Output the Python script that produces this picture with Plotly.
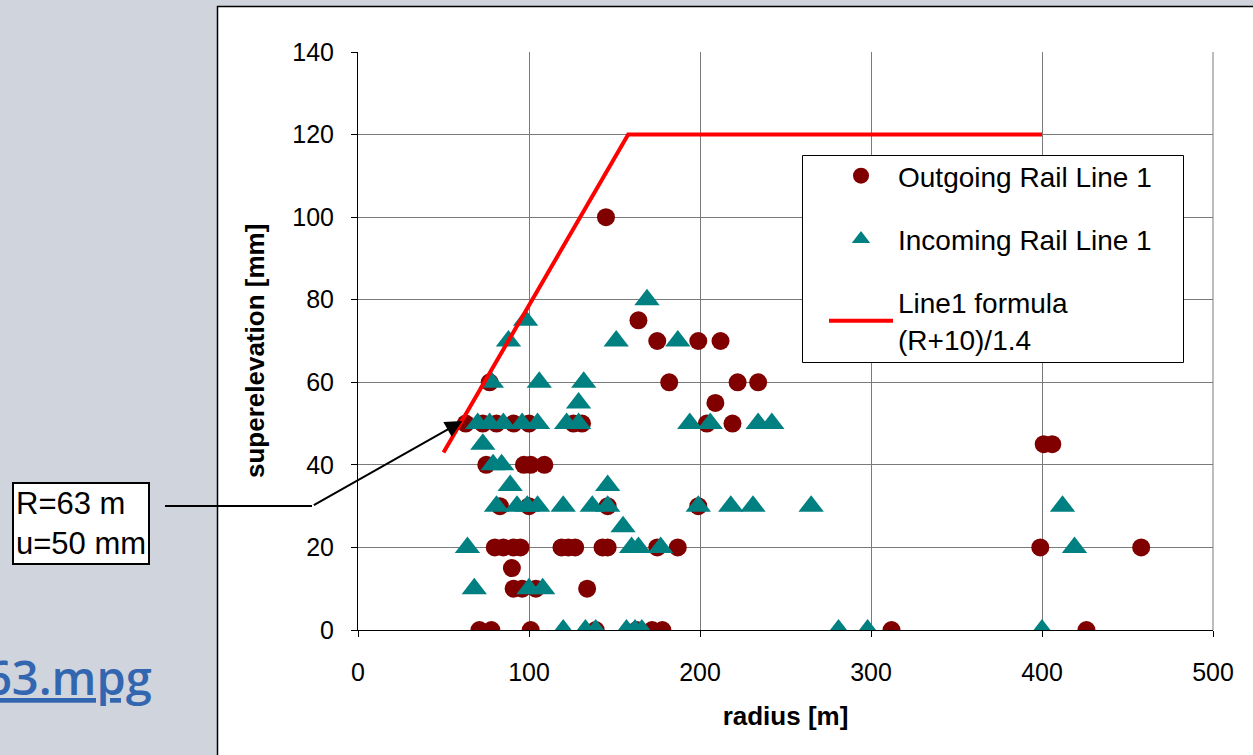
import plotly.graph_objects as go

# ---------------- data ----------------
out_x = [145, 164, 175, 199, 212, 182, 222, 234, 77, 209,
         63, 73, 81, 91, 100, 126, 131, 204, 219, 401, 406,
         75, 97, 101, 109, 83, 100, 146, 199,
         80, 85, 91, 95, 119, 123, 127, 143, 146, 175, 187, 399, 458,
         90, 91, 96, 104, 134,
         71, 78, 101, 139, 163, 172, 178, 312, 426]
out_y = [100, 75, 70, 70, 70, 60, 60, 60, 60, 55,
         50, 50, 50, 50, 50, 50, 50, 50, 50, 45, 45,
         40, 40, 40, 40, 30, 30, 30, 30,
         20, 20, 20, 20, 20, 20, 20, 20, 20, 20, 20, 20, 20,
         15, 10, 10, 10, 10,
         0, 0, 0, 0, 0, 0, 0, 0, 0]

in_x = [169, 98, 88, 151, 187, 78, 106, 132, 129,
        70, 77, 85, 96, 105, 122, 129, 194, 206, 234, 242,
        73, 79, 84, 89, 146,
        81, 93, 99, 105, 120, 137, 146, 199, 218, 231, 265, 412,
        155, 64, 160, 164, 177, 419,
        68, 100, 108,
        120, 133, 139, 157, 162, 166, 281, 298, 400]
in_y = [80, 75, 70, 70, 70, 60, 60, 60, 55,
        50, 50, 50, 50, 50, 50, 50, 50, 50, 50, 50,
        45, 40, 40, 35, 35,
        30, 30, 30, 30, 30, 30, 30, 30, 30, 30, 30, 30,
        25, 20, 20, 20, 20, 20,
        10, 10, 10,
        0, 0, 0, 0, 0, 0, 0, 0, 0]

line_x = [50, 158, 400]
line_y = [43, 120, 120]

x_ticks = [0, 100, 200, 300, 400, 500]
y_ticks = [0, 20, 40, 60, 80, 100, 120, 140]

# ---------------- layout geometry ----------------
W, H = 1253, 755
L, R, T, B = 358, 1213, 52, 630   # plot area in pixels


def px(xp):
    return (xp - L) / (R - L)


def py(yp):
    return (B - yp) / (B - T)


FONT = "Liberation Sans, Arial, sans-serif"

fig = go.Figure()
fig.add_trace(go.Scatter(
    x=out_x, y=out_y, mode="markers", name="Outgoing Rail Line 1",
    legendgroup="a",
    marker=dict(symbol="circle", size=18, color="#800000")))
fig.add_trace(go.Scatter(
    x=in_x, y=in_y, mode="markers", name="Incoming Rail Line 1",
    legendgroup="b",
    marker=dict(symbol="triangle-up", size=22, color="#008080")))
fig.add_trace(go.Scatter(
    x=line_x, y=line_y, mode="lines", name="Line1 formula<br>(R+10)/1.4",
    legendgroup="c",
    line=dict(color="#FF0000", width=4)))

axis_common = dict(
    showline=True, linecolor="black", linewidth=1,
    showgrid=True, gridcolor="#7a7a7a", gridwidth=1,
    ticks="outside", ticklen=6, tickcolor="black",
    tickfont=dict(family=FONT, size=25, color="black"),
    zeroline=False, fixedrange=True,
)

fig.update_xaxes(range=[0, 500], tickvals=x_ticks, ticktext=[str(v) for v in x_ticks],
                 title=dict(text="<b>radius [m]</b>", font=dict(family=FONT, size=26, color="black"),
                            standoff=21),
                 ticklabelstandoff=14, **axis_common)
fig.update_yaxes(range=[0, 140], tickvals=y_ticks, ticktext=[str(v) for v in y_ticks],
                 ticklabelstandoff=12, **axis_common)

shapes = [
    # slide background left and top
    dict(type="rect", xref="paper", yref="paper", x0=px(-5), x1=px(217), y0=py(-5), y1=py(760),
         fillcolor="#D0D4DC", line=dict(width=0), layer="below"),
    dict(type="rect", xref="paper", yref="paper", x0=px(-5), x1=px(1260), y0=py(6), y1=py(-5),
         fillcolor="#D0D4DC", line=dict(width=0), layer="below"),
    # chart border
    dict(type="line", xref="paper", yref="paper", x0=px(217.5), x1=px(217.5), y0=py(6), y1=py(760),
         line=dict(color="black", width=1.5)),
    dict(type="line", xref="paper", yref="paper", x0=px(217), x1=px(1260), y0=py(6.5), y1=py(6.5),
         line=dict(color="black", width=1.5)),
    # right frame of plot area
    dict(type="line", xref="paper", yref="paper", x0=1, x1=1, y0=0, y1=1,
         line=dict(color="#7a7a7a", width=1)),
    # callout connector
    dict(type="line", xref="paper", yref="paper", x0=px(165), x1=px(312), y0=py(506), y1=py(506),
         line=dict(color="black", width=2)),
    # legend frame
    dict(type="rect", xref="paper", yref="paper", x0=px(802.5), x1=px(1183.5), y0=py(155.5), y1=py(362.5),
         fillcolor="white", line=dict(color="black", width=1), layer="above"),
]

annotations = [
    # y axis title
    dict(x=px(255), y=py(351), xref="paper", yref="paper", xanchor="center", yanchor="middle",
         text="<b>superelevation [mm]</b>", textangle=-90, showarrow=False,
         font=dict(family=FONT, size=26, color="black")),
    # arrow to the R=63 point
    dict(x=61, y=50.6, xref="x", yref="y", text="", showarrow=True,
         ax=312 - 462, ay=506 - 421, axref="pixel", ayref="pixel",
         arrowhead=2, arrowsize=1.7, arrowwidth=2, arrowcolor="black"),
    # callout box
    dict(x=px(12), y=py(482), xref="paper", yref="paper", xanchor="left", yanchor="top",
         text="R=63 m<br>u=50 mm", align="left", showarrow=False,
         font=dict(family=FONT, size=31, color="black"),
         bgcolor="white", bordercolor="black", borderwidth=2, borderpad=2),
    # hyperlink text on slide
    dict(x=px(154), y=py(677), xref="paper", yref="paper", xanchor="right", yanchor="middle",
         text="<u>63.mpg</u>", showarrow=False,
         font=dict(family="Open Sans, sans-serif", size=47, weight=600, color="#3366B0")),
]

fig.update_layout(
    width=W, height=H,
    margin=dict(l=L, r=W - R, t=T, b=H - B, autoexpand=False),
    paper_bgcolor="white", plot_bgcolor="white",
    shapes=shapes, annotations=annotations,
    showlegend=True,
    legend=dict(x=px(824), y=py(151), xanchor="left", yanchor="top",
                bgcolor="rgba(0,0,0,0)", borderwidth=0,
                font=dict(family=FONT, size=28, color="black"),
                tracegroupgap=24, itemwidth=64),
    font=dict(family=FONT, color="black"),
)

fig.write_html("out.html", include_plotlyjs=True, config={"displayModeBar": False})
